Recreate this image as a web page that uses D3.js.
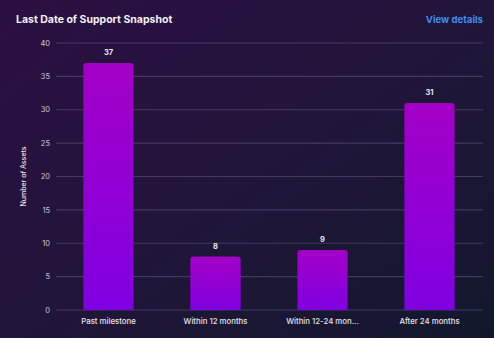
<!DOCTYPE html>
<html><head><meta charset="utf-8">
<script src="https://cdn.jsdelivr.net/npm/d3@7"></script>
<style>html,body{margin:0;padding:0;background:#1c1434;}svg{display:block;}</style>
</head><body>
<svg id="c" width="494" height="338"></svg>
<script>
const categories = ["Past milestone", "Within 12 months", "Within 12-24 mon...", "After 24 months"];
const values = [37, 8, 9, 31];
const yTicks = [0, 5, 10, 15, 20, 25, 30, 35, 40];

const W = 494, H = 338;
const svg = d3.select("#c");
const defs = svg.append("defs");
const bg = defs.append("linearGradient").attr("id","bg").attr("x1","0").attr("y1","0").attr("x2","1").attr("y2","1");
bg.append("stop").attr("offset","0%").attr("stop-color","#2c0f42");
bg.append("stop").attr("offset","50%").attr("stop-color","#21153a");
bg.append("stop").attr("offset","100%").attr("stop-color","#12182c");
const bar = defs.append("linearGradient").attr("id","bar").attr("x1","0").attr("y1","0").attr("x2","0").attr("y2","1");
bar.append("stop").attr("offset","0%").attr("stop-color","#a300c6");
bar.append("stop").attr("offset","100%").attr("stop-color","#8000e2");

svg.append("rect").attr("width",W).attr("height",H).attr("fill","url(#bg)");

const x = d3.scaleBand().domain(categories).range([55, 483]).paddingInner(0.53).paddingOuter(0.265);
const y = d3.scaleLinear().domain([0, 40]).range([310, 43]);

// grid
svg.append("g").selectAll("line").data(yTicks).join("line")
  .attr("x1", 56).attr("x2", 483)
  .attr("y1", d => y(d)).attr("y2", d => y(d))
  .attr("stroke", "rgba(170,170,210,0.25)").attr("stroke-width", 1.2);

// y tick labels
svg.append("g").selectAll("text").data(yTicks).join("text")
  .attr("x", 50).attr("y", d => y(d)).attr("dy", "0.35em")
  .attr("text-anchor", "end").attr("fill", "#c9c6d6")
  .attr("font-family", "Inter, sans-serif").attr("font-size", 7.5)
  .text(d => d);

// y axis title
svg.append("text").attr("transform", `translate(26,${y(20)}) rotate(-90)`)
  .attr("text-anchor", "middle").attr("fill", "#e6e4ee")
  .attr("font-family", "Inter, sans-serif").attr("font-size", 7).attr("font-weight", 500)
  .text("Number of Assets");

// bars
const r = 3;
svg.append("g").selectAll("path").data(values).join("path")
  .attr("d", (d, i) => {
    const x0 = x(categories[i]), w = x.bandwidth(), y0 = y(d), y1 = y(0);
    return `M${x0},${y1}V${y0 + r}Q${x0},${y0} ${x0 + r},${y0}H${x0 + w - r}Q${x0 + w},${y0} ${x0 + w},${y0 + r}V${y1}Z`;
  })
  .attr("fill", "url(#bar)");

// value labels
svg.append("g").selectAll("text").data(values).join("text")
  .attr("x", (d, i) => x(categories[i]) + x.bandwidth() / 2)
  .attr("y", d => y(d) - 8)
  .attr("text-anchor", "middle").attr("fill", "#e8e6f0")
  .attr("font-family", "Inter, sans-serif").attr("font-size", 7.5).attr("font-weight", 700)
  .text(d => d);

// x labels
svg.append("g").selectAll("text").data(categories).join("text")
  .attr("x", d => x(d) + x.bandwidth() / 2)
  .attr("y", 324)
  .attr("text-anchor", "middle").attr("fill", "#e6e4ee")
  .attr("font-family", "Inter, sans-serif").attr("font-size", 7.8).attr("font-weight", 500)
  .text(d => d);

// title
svg.append("text").attr("x", 16).attr("y", 23)
  .attr("fill", "#f2f0f8").attr("font-family", "Inter, sans-serif")
  .attr("font-size", 10.5).attr("font-weight", 700)
  .text("Last Date of Support Snapshot");

svg.append("text").attr("x", 483).attr("y", 23).attr("text-anchor", "end")
  .attr("fill", "#3f8ef2").attr("font-family", "Inter, sans-serif")
  .attr("font-size", 9.6).attr("font-weight", 700)
  .text("View details");
</script>
</body></html>
